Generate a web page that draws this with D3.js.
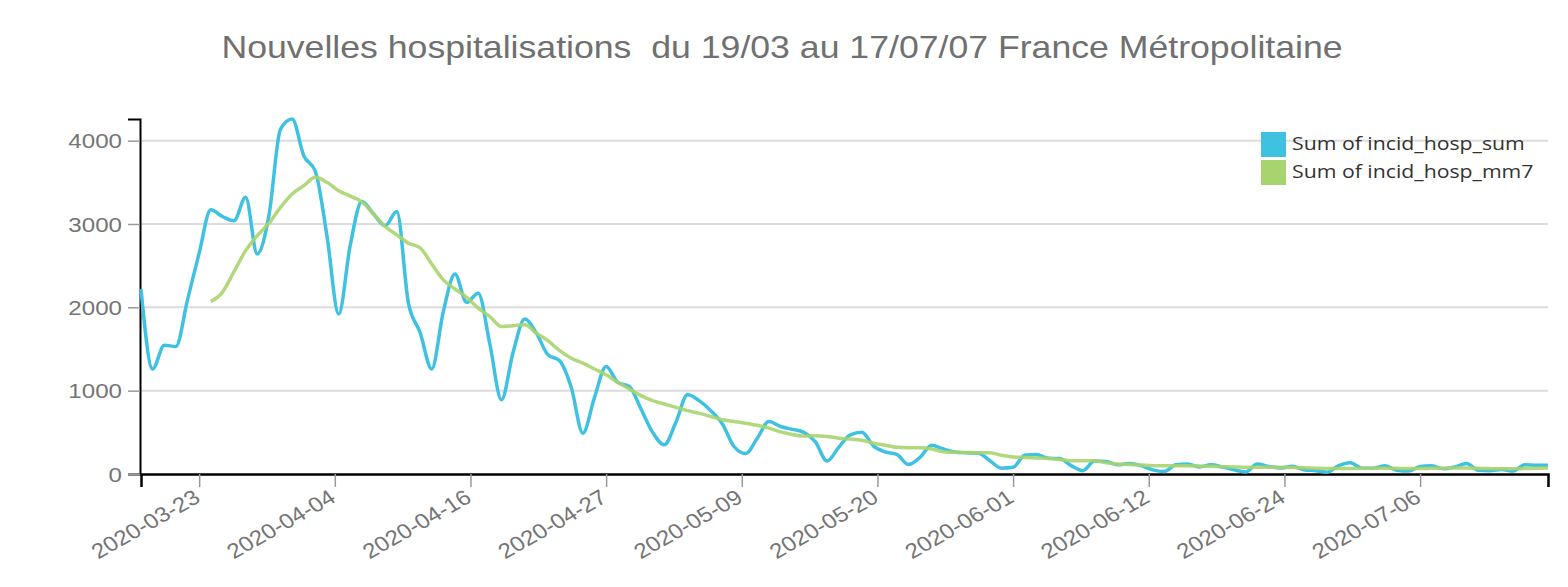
<!DOCTYPE html>
<html><head><meta charset="utf-8">
<script src="https://cdn.jsdelivr.net/npm/d3@7"></script>
<style>body{margin:0;background:#fff} svg{display:block}</style>
</head><body><svg id="c" width="1568" height="587"></svg>
<script>
const titleText = "Nouvelles hospitalisations  du 19/03 au 17/07/07 France Métropolitaine";
const startDate = "2020-03-18";
const seriesNames = ["Sum of incid_hosp_sum", "Sum of incid_hosp_mm7"];
const incidHospSum = [
2220,1260,1545,1530,2090,2650,3170,3090,3040,3320,
2640,3100,4140,4260,3820,3630,2850,1920,2750,3270,
3120,2980,3150,2050,1700,1260,1950,2400,2060,2170,
1560,890,1460,1860,1690,1430,1360,1040,490,920,
1290,1100,1050,780,500,350,620,950,880,760,
600,330,245,430,630,570,536,500,385,155,
320,470,500,335,265,235,115,200,345,300,
265,255,250,160,70,80,225,235,190,185,
100,40,155,150,110,125,100,50,30,110,
120,85,110,85,50,25,120,90,72,92,
52,40,22,100,135,70,70,100,45,35,
90,100,62,85,125,45,40,55,35,110,
105,105];
const incidHospMm7 = [null,null,null,null,null,null,
2070,2180,2430,2680,
2860,3010,3200,3360,3460,3560,3500,3400,3335,3265,
3120,2970,2870,2770,2715,2520,2330,2220,2120,1990,
1890,1770,1780,1790,1690,1600,1480,1390,1330,1260,
1190,1100,1020,940,880,840,800,760,730,690,
650,630,610,585,550,505,475,455,460,450,
430,420,405,370,345,320,316,316,300,268,
260,258,256,255,225,205,198,192,185,175,
160,160,158,135,120,115,108,100,100,100,
98,95,92,88,85,80,80,80,80,78,
75,70,66,65,66,68,70,70,68,66,
66,68,70,72,72,70,66,62,62,66,
70,72];
const tickLabels = ["2020-03-23","2020-04-04","2020-04-16","2020-04-27","2020-05-09","2020-05-20","2020-06-01","2020-06-12","2020-06-24","2020-07-06"];
const yTicks = [0,1000,2000,3000,4000];

(function () {
const colors = ["#3fc1e2", "#a8d46f"];
const SX = 1.15; // horizontal stretch of reference text
const svg = d3.select("#c");
const parse = d3.utcParse("%Y-%m-%d");
const t0 = parse(startDate);
const dates = incidHospSum.map((_, i) => d3.utcDay.offset(t0, i));

const pLeft = 141, pRight = 1548, pTop = 119, pBottom = 474;
const x = d3.scaleUtc().domain([dates[0], dates[dates.length - 1]]).range([pLeft, pRight]);
const y = d3.scaleLinear().domain([0, d3.max(incidHospSum)]).range([pBottom, pTop]);

// evenly spaced ticks from the first to the last label
const tA = parse(tickLabels[0]), tB = parse(tickLabels[tickLabels.length - 1]);
const tickDates = tickLabels.map((_, k) => new Date(+tA + (tB - tA) * k / (tickLabels.length - 1)));

// title
svg.append("text")
  .attr("transform", `translate(782,58) scale(${SX},1)`)
  .attr("text-anchor", "middle")
  .style("white-space", "pre")
  .attr("font-family", "'Liberation Sans', Arial, sans-serif")
  .attr("font-size", 31)
  .attr("fill", "#707070")
  .text(titleText);

// gridlines
svg.append("g").selectAll("line").data(yTicks.filter(d => d > 0)).join("line")
  .attr("x1", 140).attr("x2", pRight)
  .attr("y1", d => y(d)).attr("y2", d => y(d))
  .attr("stroke", "#dcdcdc").attr("stroke-width", 2);

// y axis
const gy = svg.append("g").attr("transform", "translate(140,0)")
  .call(d3.axisLeft(y).tickValues(yTicks).tickFormat(d3.format("d")).tickSize(12).tickSizeOuter(12).tickPadding(6));
gy.select(".domain").attr("stroke", "#000").attr("stroke-width", 2);
gy.selectAll(".tick line").attr("stroke", "#999").attr("stroke-width", 1.5);
gy.selectAll(".tick text")
  .attr("x", null).attr("dy", null)
  .attr("transform", `translate(-18,7) scale(${SX},1)`)
  .attr("font-family", "'Liberation Sans', Arial, sans-serif")
  .attr("font-size", 21).attr("fill", "#757575");

// x axis
const gx = svg.append("g").attr("transform", `translate(0,${pBottom})`)
  .call(d3.axisBottom(x).tickValues(tickDates).tickFormat((d, i) => tickLabels[i]).tickSize(13).tickSizeOuter(13));
gx.select(".domain").attr("stroke", "#000").attr("stroke-width", 2.5);
gx.selectAll(".tick line").attr("stroke", "#999").attr("stroke-width", 1.5);
gx.selectAll(".tick text")
  .attr("y", null).attr("dy", null).attr("text-anchor", "end")
  .attr("transform", `translate(2,27) scale(${SX},1) rotate(-33)`)
  .attr("font-family", "'Liberation Sans', Arial, sans-serif")
  .attr("font-size", 21).attr("fill", "#757575");

// lines
const series = [incidHospSum, incidHospMm7];
series.forEach((vals, s) => {
  const line = d3.line()
    .defined(d => d != null)
    .x((d, i) => x(dates[i]))
    .y(d => y(d))
    .curve(d3.curveMonotoneX);
  svg.append("path").datum(vals)
    .attr("d", line)
    .attr("fill", "none")
    .attr("stroke", colors[s])
    .attr("stroke-width", 3.5)
    .attr("stroke-opacity", s === 1 ? 0.9 : 1)
    .attr("stroke-linejoin", "round");
});

// legend
const lg = svg.append("g").attr("transform", "translate(1261,132)");
seriesNames.forEach((name, i) => {
  lg.append("rect").attr("x", 0).attr("y", i * 28).attr("width", 25).attr("height", 25).attr("fill", colors[i]);
  lg.append("text")
    .attr("transform", `translate(31,${18 + i * 28}) scale(${SX},1)`)
    .attr("font-family", "'Open Sans', 'Noto Sans', sans-serif")
    .attr("font-size", 18.5).attr("fill", "#333")
    .text(name);
});
})();
</script></body></html>
